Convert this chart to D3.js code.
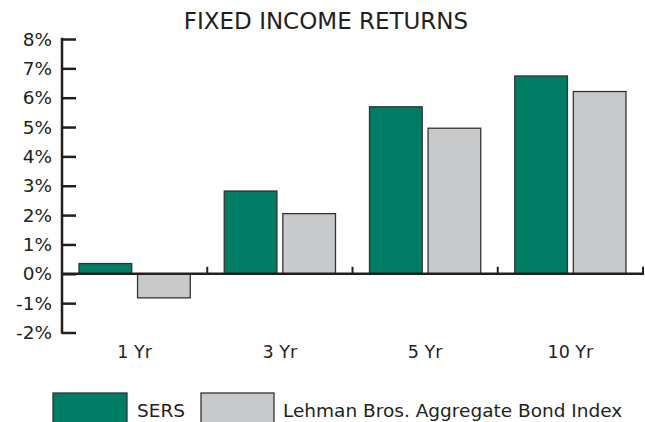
<!DOCTYPE html>
<html><head><meta charset="utf-8">
<script src="https://cdn.jsdelivr.net/npm/d3@7"></script>
<style>body{margin:0;background:#fff}svg{display:block}text{font-family:"DejaVu Sans",sans-serif;fill:#231f20}</style>
</head><body><svg id="c" width="645" height="422"></svg>
<script>
const categories = ["1 Yr","3 Yr","5 Yr","10 Yr"];
const seriesNames = ["SERS","Lehman Bros. Aggregate Bond Index"];
const sers = [0.35, 2.82, 5.69, 6.74];
const lehman = [-0.82, 2.05, 4.96, 6.21];
const yTicks = [-2,-1,0,1,2,3,4,5,6,7,8];
const colors = ["#007b64","#c8c9cb"];

const svg = d3.select("#c");
const x0 = d3.scaleBand().domain(categories).range([62, 643]).paddingInner(0).paddingOuter(0);
const x1 = d3.scaleBand().domain([0,1]).range([17, x0.bandwidth()-17]).paddingInner(0.1);
const y = d3.scaleLinear().domain([-2, 8]).range([332.5, 39]);

svg.append("text").attr("x", 326).attr("y", 29).attr("text-anchor","middle")
  .style("font-size","23px").text("FIXED INCOME RETURNS");

// bars
categories.forEach((c,i)=>{
  [sers[i], lehman[i]].forEach((v,j)=>{
    svg.append("rect")
      .attr("x", x0(c)+x1(j)).attr("width", x1.bandwidth())
      .attr("y", y(Math.max(0,v))).attr("height", Math.abs(y(v)-y(0)))
      .attr("fill", colors[j]).attr("stroke","#333").attr("stroke-width",1.3);
  });
});

// y axis
const ya = svg.append("g").attr("transform","translate(62,0)")
  .call(d3.axisRight(y).tickValues(yTicks).tickSize(14).tickFormat(()=>""));
ya.select(".domain").remove();
ya.selectAll("line").attr("stroke","#231f20").attr("stroke-width",2.5);
svg.append("line").attr("x1",62).attr("x2",62).attr("y1",y(8)-1.2).attr("y2",y(-2)+1.2)
  .attr("stroke","#231f20").attr("stroke-width",2.5);
svg.selectAll(".ylab").data(yTicks).enter().append("text").attr("class","ylab")
  .attr("x",52).attr("y",d=>y(d)+6.5).attr("text-anchor","end")
  .style("font-size","18.5px").text(d=>d+"%");

// x axis
svg.append("line").attr("x1",61).attr("x2",644).attr("y1",y(0)).attr("y2",y(0))
  .attr("stroke","#231f20").attr("stroke-width",2.5);
const sepTicks = categories.map(c=>x0(c)+x0.bandwidth());
svg.selectAll(".xt").data(sepTicks).enter().append("line")
  .attr("x1",d=>d).attr("x2",d=>d).attr("y1",y(0)).attr("y2",y(0)-7)
  .attr("stroke","#231f20").attr("stroke-width",2);
svg.selectAll(".xlab").data(categories).enter().append("text")
  .attr("x",d=>x0(d)+x0.bandwidth()/2).attr("y",358).attr("text-anchor","middle")
  .style("font-size","17.5px").text(d=>d);

// legend
const leg = [{x:53,w:74,tx:137},{x:201,w:73,tx:283}];
leg.forEach((l,i)=>{
  svg.append("rect").attr("x",l.x).attr("y",393).attr("width",l.w).attr("height",30)
    .attr("fill",colors[i]).attr("stroke","#333").attr("stroke-width",1.3);
  svg.append("text").attr("x",l.tx).attr("y",417).style("font-size","18.5px").text(seriesNames[i]);
});
</script></body></html>
